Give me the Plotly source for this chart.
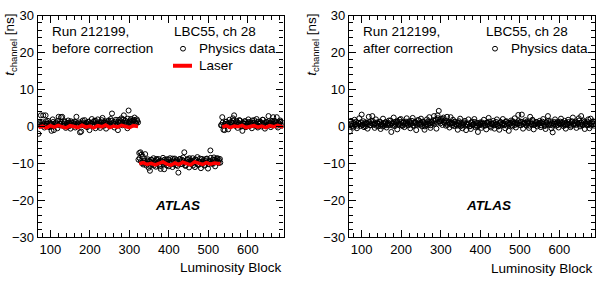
import plotly.graph_objects as go

# Luminosity blocks (two interleaved sets of sampled LBs)
lb = list(range(70, 689, 3))
lb_b = list(range(71, 687, 3))

# Left panel: before correction
before_seg1 = [-2.0, 1.2, 3.0, 0.4, 3.0, -0.3, 3.0, 0.8, 1.5, -0.2,
               0.6, -1.2, 1.9, -1.0, 0.3, 1.1, -0.5, 2.6, 0.7, 2.5,
               2.6, 0.2, 1.4, -0.4, 0.9, 1.6, 0.1, -0.6, 1.0, 0.5,
               1.3, -0.3, 2.6, 0.8, 0.2, -1.6, -1.4, 1.1, 0.4, 1.7,
               0.6, -0.2, 1.2, -1.0, 0.9, 2.0, 0.3, 1.5, -0.5, 0.7,
               1.9, 0.2, -0.4, 1.1, 2.3, 0.5, 1.4, -0.6, 0.8, 1.6,
               0.1, 2.0, 3.5, 0.6, -0.3, 1.3, 0.4, -1.0, 1.8, 0.9,
               2.2, 0.3, 3.0, 1.6, 0.8, -0.5, 4.3, 1.2, 2.0, 0.5,
               1.5, 2.4, 0.7, 1.9, 1.1]
before_seg2 = [-7.2, -7.0, -7.6, -8.2, -9.8,
               -7.5, -10.6, -9.3, -11.2, -12.0, -9.0, -10.2, -8.6, -9.7, -10.9,
               -9.1, -8.8, -10.4, -11.5, -9.4, -8.5, -11.6, -10.1, -8.9, -9.6,
               -10.8, -8.6, -9.9, -11.0, -9.2, -8.7, -10.5, -9.4, -12.5, -8.9,
               -10.2, -9.0, -8.4, -7.0, -10.7, -9.5, -8.8, -11.1, -9.3, -10.0,
               -8.6, -9.8, -11.0, -9.1, -8.3, -10.4, -9.6, -11.3, -8.8, -9.9,
               -10.6, -9.2, -8.7, -11.4, -9.5, -6.5, -10.1, -9.0, -8.4, -10.8,
               -9.3, -8.6, -9.9, -8.8]
before_seg3 = [0.3, 2.5, -0.9, -1.0, 1.2, 0.6,
               -0.8, 1.8, 0.4, 1.0, 2.2, 3.0, 0.2, 1.5, -0.4, 0.9,
               1.6, 0.3, -1.2, 0.8, 1.4, -0.2, 0.6, 1.9, 0.1, 1.1,
               -0.5, 0.9, 1.7, 0.3, 2.0, -0.3, 0.7, 1.3, 0.0, 1.8,
               0.5, -0.6, 1.2, 0.4, 2.8, 0.9, -0.2, 1.5, 2.5, 0.6,
               1.1, 2.5, -0.3, 0.8, 1.6, 0.2, 1.0]
before = before_seg1 + before_seg2 + before_seg3

before_b_seg1 = [0.5, 0.9, 0.2, 1.1, 0.6, 0.3, 1.4, 0.7, 0.0, 1.0,
                 0.8, 0.4, 1.2, 0.1, 0.9, 0.6, 1.5, 0.3, 0.7, 1.1,
                 0.2, 0.8, 1.3, 0.5, 0.0, 1.0, 0.6, 1.4, 0.3, 0.9,
                 0.7, 1.2, 0.2, 0.5, 1.1, 0.8, 0.4, 1.6, 0.6, 0.1,
                 1.0, 0.7, 1.3, 0.4, 0.9, 0.2, 1.2, 0.6, 1.5, 0.8,
                 0.3, 1.1, 0.5, 1.7, 0.9, 0.2, 1.0, 0.6, 1.3, 0.4,
                 0.8, 1.5, 0.3, 1.1, 0.7, 1.8, 0.5, 1.2, 0.9, 1.4,
                 0.6, 1.9, 1.0, 0.4, 1.3, 2.1, 0.8, 1.6, 1.1, 0.7,
                 1.8, 1.2, 0.9, 1.5]
before_b_seg2 = [-9.0, -8.6, -9.4, -9.9, -10.3, -9.2, -9.7, -10.1, -8.9, -9.5,
                 -10.4, -9.1, -9.8, -10.6, -9.3, -8.8, -10.0, -9.6, -10.8, -9.2,
                 -9.7, -10.2, -9.0, -9.5, -10.5, -8.9, -9.8, -10.1, -9.4, -8.7,
                 -10.3, -9.6, -9.1, -10.7, -9.9, -8.8, -9.5, -10.2, -9.3, -9.8,
                 -10.5, -9.0, -9.7, -8.6, -10.1, -9.4, -10.6, -9.2, -8.9, -9.9,
                 -10.3, -9.5, -8.7, -10.0, -9.6, -9.1, -10.4, -8.8, -9.7, -10.2,
                 -9.3, -8.5, -9.9, -10.1, -9.0, -9.6, -8.7, -9.4, -9.1, -9.8]
before_b_seg3 = [0.4, 1.0, 0.2, 0.7, 1.3, 0.5, 0.9, 0.1, 1.2, 0.6,
                 1.5, 0.3, 0.8, 1.1, 0.4, 1.7, 0.6, 0.0, 1.0, 0.7,
                 1.4, 0.2, 0.9, 1.2, 0.5, 0.8, 1.6, 0.3, 1.1, 0.6,
                 0.0, 1.3, 0.7, 1.0, 0.4, 1.8, 0.9, 0.2, 1.2, 0.5,
                 1.4, 0.8, 0.3, 1.1, 0.6, 1.5, 0.9, 0.2, 1.0, 0.7,
                 1.3, 0.4]
before_b = before_b_seg1 + before_b_seg2 + before_b_seg3

# Right panel: after correction
after = [-1.4, 1.5, 0.2, -0.3, 1.8, 0.6, -0.5, 0.9, 2.2, 0.1,
         3.2, 0.4, -0.2, 1.1, 0.7, -0.6, 2.6, 0.3, 1.4, 2.8,
         0.5, -0.4, 1.9, 0.8, 0.0, 1.2, -0.7, 0.6, 2.1, 0.2,
         1.0, -0.3, 0.7, 1.6, 0.4, -1.5, 0.9, 2.4, 0.1, 1.3,
         -0.8, 0.6, 1.8, 2.0, 0.3, 1.1, -0.2, 0.8, 2.2, 0.5,
         1.4, -0.5, 0.9, 2.3, 0.2, 1.0, -1.0, 0.7, 1.7, 0.4,
         2.1, 0.0, 1.2, -0.9, 0.6, 1.9, 0.3, 2.5, -0.4, 1.1,
         0.8, 2.8, 1.5, -0.6, 3.0, 4.2, 1.3, 2.0, 0.4, 2.4,
         1.6, 0.2, 2.6, 1.0, -0.3, 2.5, 0.9, 1.8, 0.1, 1.2,
         0.6, -0.9, 1.4, 2.1, 0.3, -0.5, 0.8, 1.5, -1.0, 0.4,
         1.9, 0.0, -0.7, 1.3, 0.5, 2.0, -0.2, 0.9, -1.5, 0.3,
         1.1, -0.4, 0.7, 1.8, 0.2, -0.8, 1.0, 2.3, 0.5, -0.3,
         0.8, 1.5, -0.6, 0.4, 1.9, 0.1, -0.9, 1.2, 0.6, 2.0,
         0.3, -0.5, 1.4, 0.9, -1.2, 0.7, 1.6, 0.0, 1.1, 2.2,
         -0.3, 0.8, 3.1, 0.4, 1.3, 3.2, -0.6, 0.9, 1.7, 0.2,
         1.0, -0.4, 2.6, 0.6, 1.8, -0.8, 0.5, 1.2, 0.0, 0.7,
         1.5, -0.2, 0.9, 2.0, 0.3, -0.7, 1.1, 2.8, 0.4, 1.4,
         -0.5, -1.6, 0.8, 1.9, 0.2, 1.2, -0.3, 0.6, 2.1, 0.9,
         0.1, 1.5, -0.6, 0.7, 1.8, 0.4, -0.2, 1.1, 2.4, 0.5,
         1.3, -0.4, 0.8, 2.2, 0.0, 2.8, 0.6, 1.6, -0.7, 1.0,
         0.3, 1.9, -0.5, 2.1, 0.7, 1.4, 0.2]
after_b = [0.3, 0.8, 0.1, 1.0, 0.5, 1.3, 0.2, 0.9, 0.6, 1.1,
           0.4, 1.4, 0.7, 0.0, 1.0, 0.6, 1.2, 0.3, 0.8, 1.5,
           0.5, 0.9, 0.2, 1.1, 0.7, 1.3, 0.4, 0.0, 0.9, 0.6,
           1.2, 0.3, 1.0, 0.5, 1.6, 0.8, 0.2, 1.1, 0.6, 0.9,
           1.4, 0.4, 0.7, 1.2, 0.1, 1.0, 0.5, 1.3, 0.8, 0.3,
           1.1, 0.6, 1.5, 0.2, 0.9, 1.2, 0.4, 1.7, 0.7, 1.0,
           0.5, 1.3, 0.8, 0.0, 1.1, 0.6, 1.4, 0.9, 0.3, 1.2,
           1.6, 0.7, 1.9, 1.0, 2.2, 1.4, 0.8, 1.6, 2.0, 1.1,
           0.9, 1.5, 0.4, 1.2, 0.7, 1.0, 0.3, 0.8, 1.3, 0.5,
           0.2, 1.0, 0.6, 0.0, 0.9, 0.4, 1.1, 0.2, 0.7, 0.5,
           0.8, 0.1, 1.0, 0.4, 0.6, 1.2, 0.3, 0.0, 0.9, 0.5,
           0.7, 1.1, 0.2, 0.8, 0.4, 1.0, 0.6, 1.3, 0.1, 0.7,
           0.5, 0.9, 0.3, 1.2, 0.6, 0.0, 0.8, 1.1, 0.4, 0.9,
           0.6, 1.3, 0.2, 0.8, 0.5, 1.0, 0.3, 1.4, 0.7, 0.4,
           1.1, 0.6, 1.5, 0.9, 0.3, 1.2, 0.7, 1.0, 0.5, 1.3,
           0.8, 0.2, 1.1, 0.6, 1.4, 0.4, 0.9, 1.2, 0.5, 0.8,
           1.0, 0.3, 1.3, 0.7, 0.1, 1.1, 0.6, 1.5, 0.8, 0.4,
           0.9, 0.2, 1.2, 0.6, 1.0, 0.4, 0.8, 1.3, 0.5, 1.1,
           0.7, 0.3, 1.0, 0.5, 1.2, 0.8, 0.2, 1.4, 0.6, 0.9,
           0.4, 1.1, 0.7, 1.6, 0.5, 1.0, 0.3, 1.2, 0.8, 0.6,
           1.3, 0.5, 0.9, 0.2, 1.1, 0.7]

# Laser
laser_lb1 = [70, 80, 90, 100, 110, 120, 130, 140, 150, 160, 170, 180, 190,
             200, 210, 220, 230, 240, 250, 260, 270, 280, 290, 300, 310, 322]
laser_t1 = [-0.3, 0.1, -0.4, 0.2, -0.2, 0.3, -0.1, -0.4, 0.2, 0.0, -0.3, 0.3, -0.2,
            0.1, -0.4, 0.2, -0.1, 0.4, -0.3, 0.1, -0.2, 0.3, -0.1, -0.3, 0.2, 0.0]
laser_lb2 = [325, 335, 345, 355, 365, 375, 385, 395, 405, 415, 425,
             435, 445, 455, 465, 475, 485, 495, 505, 515, 530]
laser_t2 = [-10.1, -9.8, -10.3, -10.0, -10.4, -9.9, -9.6, -10.2, -10.5, -9.9, -10.3,
            -9.7, -10.1, -10.4, -9.6, -10.0, -10.3, -9.8, -10.2, -9.9, -10.1]
laser_lb3 = [535, 545, 555, 565, 575, 585, 595, 605, 615, 625, 635, 645, 655,
             665, 675, 690]
laser_t3 = [-0.2, 0.2, -0.3, 0.1, -0.1, 0.3, -0.3, 0.0, 0.2, -0.2, 0.1, -0.3, 0.2,
            -0.1, 0.3, -0.2]

FONT = "Liberation Sans, Arial, Helvetica, sans-serif"
W, H = 600, 287

fig = go.Figure()
mk = dict(symbol="circle-open", size=5, color="black", line=dict(width=1, color="black"))
for xs, ys in [(lb, before), (lb_b, before_b)]:
    fig.add_trace(go.Scatter(x=xs, y=ys, mode="markers", marker=mk, xaxis="x", yaxis="y",
                             showlegend=False))
for lx, ly in [(laser_lb1, laser_t1), (laser_lb2, laser_t2), (laser_lb3, laser_t3)]:
    fig.add_trace(go.Scatter(x=lx, y=ly, mode="lines", line=dict(color="#ff0000", width=3.5),
                             xaxis="x", yaxis="y", showlegend=False))
for xs, ys in [(lb, after), (lb_b, after_b)]:
    fig.add_trace(go.Scatter(x=xs, y=ys, mode="markers", marker=mk, xaxis="x2", yaxis="y2",
                             showlegend=False))

def xax(domain, anchor):
    return dict(domain=domain, anchor=anchor, range=[68, 690], tickvals=[100, 200, 300, 400, 500, 600],
                ticks="inside", ticklen=7, tickwidth=1, tickcolor="black",
                minor=dict(dtick=20, tick0=0, ticks="inside", ticklen=4, tickcolor="black"),
                showline=True, linecolor="black", linewidth=1.2, mirror="ticks",
                showgrid=False, zeroline=False,
                tickfont=dict(family=FONT, size=13, color="black"))

def yax(anchor):
    return dict(domain=[44 / H, 1 - 9 / H], anchor=anchor, range=[-30, 30],
                tickvals=[-30, -20, -10, 0, 10, 20, 30],
                ticks="inside", ticklen=7, tickwidth=1, tickcolor="black",
                minor=dict(dtick=2, tick0=0, ticks="inside", ticklen=4, tickcolor="black"),
                showline=True, linecolor="black", linewidth=1.2, mirror="ticks",
                showgrid=False, zeroline=False,
                tickfont=dict(family=FONT, size=13, color="black"))

fig.update_layout(
    width=W, height=H, margin=dict(l=0, r=0, t=0, b=0),
    paper_bgcolor="white", plot_bgcolor="white",
    xaxis=xax([37.7 / W, 283.5 / W], "y"),
    yaxis=yax("x"),
    xaxis2=xax([349 / W, 595 / W], "y2"),
    yaxis2=yax("x2"),
)

def ann(text, px, py, xanchor="left", size=13.5, angle=0, yanchor="middle"):
    fig.add_annotation(text=text, x=px / W, y=1 - py / H, xref="paper", yref="paper",
                       xanchor=xanchor, yanchor=yanchor, showarrow=False, textangle=angle,
                       font=dict(family=FONT, size=size, color="black"))

# Left panel texts
ann("Run 212199,", 50, 26)
ann("before correction", 50, 44)
ann("LBC55, ch 28", 172, 26)
ann("Physics data", 197, 44)
ann("Laser", 197, 62)
ann("<b><i>ATLAS</i></b>", 177, 209, xanchor="center")
ann("Luminosity Block", 284, 275, xanchor="right")
ann("<i>t</i><sub>channel</sub> [ns]", 11, 5, xanchor="center", angle=-90, yanchor="top")

# Right panel texts
ann("Run 212199,", 361, 26)
ann("after correction", 361, 44)
ann("LBC55, ch 28", 484, 26)
ann("Physics data", 509, 44)
ann("<b><i>ATLAS</i></b>", 489, 209, xanchor="center")
ann("Luminosity Block", 595, 276, xanchor="right")
ann("<i>t</i><sub>channel</sub> [ns]", 313, 5, xanchor="center", angle=-90, yanchor="top")

# Legend symbols
for cx in [183, 495]:
    fig.add_shape(type="circle", xref="paper", yref="paper",
                  x0=(cx - 2.5) / W, x1=(cx + 2.5) / W,
                  y0=1 - (44 + 2.5) / H, y1=1 - (44 - 2.5) / H,
                  line=dict(color="black", width=1))
fig.add_shape(type="line", xref="paper", yref="paper", x0=173 / W, x1=192 / W,
              y0=1 - 62 / H, y1=1 - 62 / H, line=dict(color="#ff0000", width=4))

fig.write_html("out.html")
